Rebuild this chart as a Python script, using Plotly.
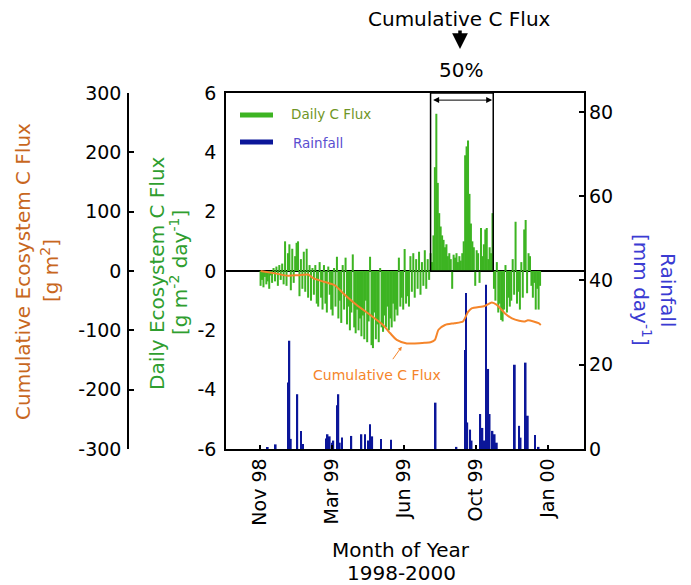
import plotly.graph_objects as go

# ---------------------------------------------------------------- data
# Day number counted from 1 Jan 1998; daily flux given on a 2-day step.
flux_first_day = 301
flux_step = 2
daily_flux = [
    -0.5, -0.3, -0.55, -0.2, -0.45, -0.35, -0.6, -0.15, -0.4, 0.1,
    -0.35, 0.15, -0.5, 0.2, -0.3, 0.25, -0.45, 1.0, -0.5, 0.6,
    0.9, -0.65, 0.75, -0.4, 0.5, 0.95, 1.0, -0.85, 0.4, -0.6,
    0.65, -0.7, 0.75, -0.9, 0.2, -1.0, 0.1, -0.8, 0.2, -1.1,
    -1.2, 0.3, -0.9, -1.3, 0.2, -1.1, -1.4, 0.15, -0.8, -1.3,
    -1.5, 0.1, -1.2, 0.48, -1.6, -1.0, -1.75, 0.2, -1.3, 0.45,
    -1.8, -1.2, -2.0, -1.4, 0.56, -1.9, -2.1, -1.3, -2.0, -1.6,
    -2.2, -1.5, -2.3, -1.0, -2.4, -1.7, 0.48, -2.5, -2.6, -1.4,
    -2.3, -1.8, -2.4, 0.1, -1.9,
    -2.05, -1.5, -1.9, -1.2, -2.0, -1.6, -1.9, -1.1, -1.7, -1.3,
    -1.5, 0.45, -1.2, -0.9, -1.3, 0.74, -1.1, -0.85, -1.2, 0.5,
    -0.7, 0.6, -0.9, 0.4, -0.6, 0.65, -0.8, 0.3, -0.5, 0.7,
    -0.6, 0.4, -0.3,
    0.6, 0.3, 1.2, 3.5, 5.3, 2.97, 1.95, 1.5, 1.2, 1.05,
    0.8, 0.9, 0.5, 0.6, 0.4, -0.6, 0.55, 0.45, 0.6, 0.3,
    0.5, 0.35,
    0.6, 1.0, 3.9, 4.2, 4.4, 2.6, 1.6, 1.0, 0.8, -0.5,
    0.7, 0.6, -0.4, 1.45, 0.5, 0.9, 1.4, 1.45, 0.4, 0.8,
    0.6, 1.95,
    -0.6, -1.0, 0.3, -1.4, -1.1, -1.65, -1.7, -1.3, 0.2, -1.4,
    -0.9, -1.2, -1.0, 0.4, -0.8, 1.66, -1.1, -0.7, -1.3, 0.3,
    -0.9, 1.4, 1.72, -0.75, 0.6, 0.5, -0.5, -0.9, -0.4, -1.3,
    -0.6, -1.3, -0.5,
]
flux_days = [flux_first_day + flux_step * i for i in range(len(daily_flux))]

rain_days = [311, 322, 339, 341, 343, 352, 357, 360, 393, 394, 397, 400, 402,
             407, 409, 411, 414, 427, 441, 446, 450, 453, 456, 468, 482, 544,
             573, 585, 586, 588, 592, 594, 606, 609, 611, 614, 617, 619, 623,
             626, 629, 654, 660, 662, 669, 672, 682, 687]
rain_mm = [0.4, 1.1, 15.8, 25.7, 2.4, 13.0, 4.3, 1.2, 2.5, 3.5, 3.0, 1.5, 2.0,
           10.4, 13.0, 1.5, 2.7, 3.1, 3.5, 3.5, 2.0, 5.9, 3.0, 2.4, 2.2, 11.0,
           0.5, 23.5, 37.0, 6.3, 4.6, 2.0, 8.3, 5.0, 2.0, 39.0, 19.0, 8.3, 4.3,
           3.5, 1.5, 20.0, 5.5, 2.7, 20.5, 7.9, 3.3, 0.5]

cum_days = [301, 321, 339, 353, 367, 374, 386, 397, 404, 416, 434, 453, 471,
            481, 490, 504, 515, 529, 537, 543, 548, 557, 570, 582, 589, 594,
            612, 622, 629, 640, 650, 660, 668, 672, 680, 687, 690]
cum_flux = [0, -4, -8, -7, -6, -12, -17, -21, -24, -38, -57, -74, -91,
            -105, -116, -122, -122, -121, -120, -116, -99, -91, -88, -85, -69, -63,
            -59, -53, -57, -71, -80, -84, -85, -83, -85, -88, -91]

month_ticks = [300, 400, 500, 600, 700]
month_labels = ["Nov 98", "Mar 99", "Jun 99", "Oct 99", "Jan 00"]

flux_ticks = [-6, -4, -2, 0, 2, 4, 6]
cum_ticks = [-300, -200, -100, 0, 100, 200, 300]
rain_ticks = [0, 20, 40, 60, 80]

# growing-season window holding half of the cumulative flux
window_start, window_end = 537, 624

# ---------------------------------------------------------------- style
W, H = 691, 585
FONT = "DejaVu Sans"
GREEN = "#3DB422"
BLUE = "#0B1699"
ORANGE = "#F5852A"
TITLE_BROWN = "#C8671E"
TITLE_GREEN = "#2F9E2F"
TITLE_BLUE = "#3B3BD2"
TICK_SIZE = 19
TITLE_SIZE = 20


def hy(v):
    return str(v).replace("\u2212", "-")


def fx(p):
    return p / W


def fy(p):
    return 1 - p / H


fig = go.Figure()

fig.add_trace(go.Bar(x=flux_days, y=daily_flux, width=2.8,
                     marker=dict(color=GREEN, line=dict(width=0)),
                     xaxis="x", yaxis="y", showlegend=False))
fig.add_trace(go.Bar(x=rain_days, y=rain_mm, width=2.4,
                     marker=dict(color=BLUE, line=dict(width=0)),
                     xaxis="x", yaxis="y2", showlegend=False))
fig.add_trace(go.Scatter(x=cum_days, y=cum_flux, mode="lines",
                         line=dict(color=ORANGE, width=2, shape="spline", smoothing=0.6),
                         xaxis="x", yaxis="y3", showlegend=False))

tickfont = dict(family=FONT, size=TICK_SIZE, color="black")

fig.update_layout(
    width=W, height=H,
    margin=dict(l=0, r=0, t=0, b=0),
    template="none",
    paper_bgcolor="white", plot_bgcolor="white",
    barmode="overlay",
    font=dict(family=FONT, size=TICK_SIZE, color="black"),
    xaxis=dict(domain=[fx(226), fx(584)], range=[253, 750],
               tickvals=month_ticks, ticktext=month_labels, tickangle=-90,
               ticks="inside", ticklen=4, tickwidth=2, tickcolor="black",
               showline=True, mirror=True, linecolor="black", linewidth=1.5,
               showgrid=False, zeroline=False, tickfont=tickfont, automargin=False),
    yaxis=dict(domain=[fy(449), fy(93)], range=[-6, 6],
               tickvals=flux_ticks, ticktext=[hy(v) for v in flux_ticks],
               ticks="", showline=True, mirror=True, linecolor="black", linewidth=1.5,
               zeroline=True, zerolinecolor="black", zerolinewidth=1.5,
               showgrid=False, tickfont=tickfont, ticklabelstandoff=4, automargin=False),
    yaxis2=dict(overlaying="y", side="right", range=[0, 84.5],
                tickvals=rain_ticks, ticks="inside", ticklen=5, tickwidth=1.5,
                tickcolor="black", showline=False, showgrid=False, zeroline=False,
                tickfont=tickfont, ticklabelstandoff=4, automargin=False),
    yaxis3=dict(overlaying="y", anchor="free", position=fx(128), side="left",
                range=[-300, 300], tickvals=cum_ticks,
                ticktext=[hy(v) for v in cum_ticks],
                ticks="inside", ticklen=5, tickwidth=1.5, tickcolor="black",
                showline=True, linecolor="black", linewidth=1.5,
                showgrid=False, zeroline=False, tickfont=tickfont,
                ticklabelstandoff=2, automargin=False),
)

shapes = [
    # growing-season window
    dict(type="rect", xref="x", yref="y", x0=window_start, x1=window_end, y0=0, y1=6,
         line=dict(color="black", width=1.5), fillcolor="rgba(0,0,0,0)"),
    # legend swatches
    dict(type="line", xref="paper", yref="paper", x0=fx(240), x1=fx(273), y0=fy(115), y1=fy(115),
         line=dict(color=GREEN, width=5)),
    dict(type="line", xref="paper", yref="paper", x0=fx(240), x1=fx(273), y0=fy(142), y1=fy(142),
         line=dict(color=BLUE, width=5)),
]
fig.update_layout(shapes=shapes)


def label(text, x, y, size=TITLE_SIZE, color="black", angle=0, xanchor="center"):
    return dict(text=text, x=fx(x), y=fy(y), xref="paper", yref="paper",
                showarrow=False, textangle=angle, xanchor=xanchor, yanchor="middle",
                font=dict(family=FONT, size=size, color=color))


annotations = [
    label("Cumulative Ecosystem C Flux", 23, 272, color=TITLE_BROWN, angle=-90),
    label("[g m<sup>2</sup>]", 50, 271, color=TITLE_BROWN, angle=-90),
    label("Daily Ecosystem C Flux", 157, 273, color=TITLE_GREEN, angle=-90),
    label("[g m<sup>-2</sup> day<sup>-1</sup>]", 179, 273, color=TITLE_GREEN, angle=-90),
    label("Rainfall", 668, 290, color=TITLE_BLUE, angle=90),
    label("[mm day<sup>-1</sup>]", 642, 290, color=TITLE_BLUE, angle=90),
    label("Month of Year", 401, 550),
    label("1998-2000", 402, 573),
    label("Cumulative C Flux", 459, 19),
    label("50%", 461, 70),
    label("Daily C Flux", 289, 114, size=13.5, color="#6F9526", xanchor="left"),
    label("Rainfall", 291, 143, size=13.5, color="#5A4ED0", xanchor="left"),
    label("Cumulative C Flux", 377, 375, size=14, color=ORANGE),
    # down arrow under the top caption
    dict(x=fx(460), y=fy(49), xref="paper", yref="paper", ax=0, ay=-20,
         showarrow=True, arrowhead=2, arrowsize=0.9, arrowwidth=3.5, arrowcolor="black", text=""),
    # double-headed span arrow across the window
    dict(x=window_end - 1.5, y=5.76, ax=window_start + 1.5, ay=5.76,
         xref="x", yref="y", axref="x", ayref="y", text="",
         showarrow=True, arrowhead=2, arrowside="end+start", arrowsize=1.2,
         arrowwidth=1, arrowcolor="black"),
    # pointer from the inner caption to the cumulative curve
    dict(x=497, y=-2.55, xref="x", yref="y", ax=-10, ay=14, text="",
         showarrow=True, arrowhead=2, arrowsize=0.8, arrowwidth=1, arrowcolor=ORANGE),
]
fig.update_layout(annotations=annotations)

fig.write_html("out.html")
